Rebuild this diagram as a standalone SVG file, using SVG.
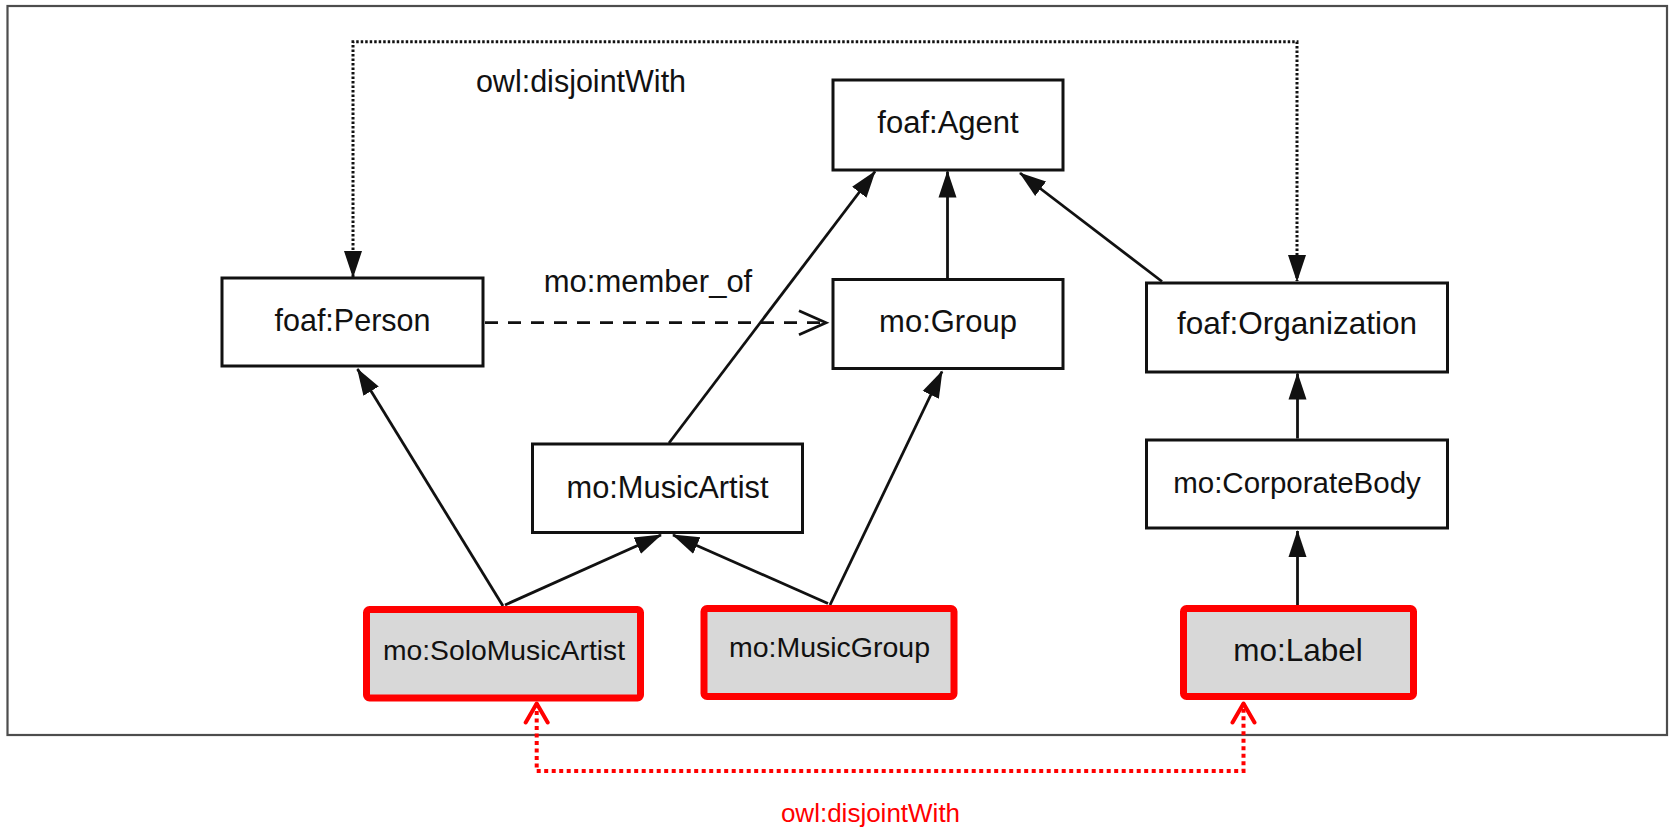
<svg xmlns="http://www.w3.org/2000/svg" width="1672" height="830" viewBox="0 0 1672 830">
<style>
text{font-family:"Liberation Sans",Arial,sans-serif;fill:#111;text-anchor:middle}
.box{fill:#fff;stroke:#111;stroke-width:3}
.rbox{fill:#d8d8d8;stroke:#ff0000;stroke-width:7}
.line{fill:none;stroke:#111;stroke-width:2.8;marker-end:url(#tri)}
.red{fill:#ff0000}
</style>
<defs>
<marker id="tri" markerUnits="userSpaceOnUse" markerWidth="28" markerHeight="20" viewBox="0 0 28 20" refX="26" refY="10" orient="auto-start-reverse">
<path d="M0,1 L27,10 L0,19 z" fill="#111"/>
</marker>
<marker id="open" markerUnits="userSpaceOnUse" markerWidth="34" markerHeight="30" viewBox="0 0 34 30" refX="30" refY="15" orient="auto">
<path d="M3,3 L30,15 L3,27" fill="none" stroke="#111" stroke-width="2.8"/>
</marker>
<marker id="ropen" markerUnits="userSpaceOnUse" markerWidth="26" markerHeight="28" viewBox="0 0 26 28" refX="22" refY="14" orient="auto-start-reverse">
<path d="M3,3 L22,14 L3,25" fill="none" stroke="#ff0000" stroke-width="4" stroke-linecap="round" stroke-linejoin="round"/>
</marker>
</defs>
<rect x="7.5" y="6" width="1659.5" height="729" fill="#fff" stroke="#4d4d4d" stroke-width="2.2"/>
<g id="connectors">
<path d="M353,277 V41.7 H1297 V281" fill="none" stroke="#111" stroke-width="3" stroke-dasharray="2.5 2" marker-start="url(#tri)" marker-end="url(#tri)"/>
<path d="M485,322.7 H826" fill="none" stroke="#111" stroke-width="2.8" stroke-dasharray="13 10" marker-end="url(#open)"/>
<path class="line" d="M669,443 L875,171.5"/>
<path class="line" d="M947.5,278.5 V171.5"/>
<path class="line" d="M1162,281.5 L1020,173"/>
<path class="line" d="M1297.5,438.5 V373.5"/>
<path class="line" d="M1297.5,605 V531"/>
<path class="line" d="M503,606 L357.5,369"/>
<path class="line" d="M505,605 L661,535"/>
<path class="line" d="M828,603.5 L673,535"/>
<path class="line" d="M830,605 L942,371.5"/>
<path d="M536.7,703.5 V771 H1243.5 V703.5" fill="none" stroke="#ff0000" stroke-width="4" stroke-dasharray="4 3.5" marker-start="url(#ropen)" marker-end="url(#ropen)"/>
<text x="581" y="91.7" font-size="30.5">owl:disjointWith</text>
<text x="648" y="291.7" font-size="31">mo:member_of</text>
<text class="red" x="870.5" y="822" font-size="26">owl:disjointWith</text>
</g>
<g id="foaf-agent"><rect class="box" x="833" y="80" width="230" height="90"/><text x="948" y="133" font-size="31">foaf:Agent</text></g>
<g id="foaf-person"><rect class="box" x="222" y="278" width="261" height="88"/><text x="352.5" y="331" font-size="30.5">foaf:Person</text></g>
<g id="mo-group"><rect class="box" x="833" y="279.5" width="230" height="89"/><text x="948" y="332" font-size="31">mo:Group</text></g>
<g id="foaf-organization"><rect class="box" x="1146.5" y="283" width="301" height="89"/><text x="1297" y="334" font-size="31.5">foaf:Organization</text></g>
<g id="mo-musicartist"><rect class="box" x="532.5" y="444" width="270" height="88.5"/><text x="667.5" y="497.5" font-size="30.8">mo:MusicArtist</text></g>
<g id="mo-corporatebody"><rect class="box" x="1146.5" y="440" width="301" height="88"/><text x="1297" y="493" font-size="29.5">mo:CorporateBody</text></g>
<g id="mo-solomusicartist"><rect class="rbox" x="366.5" y="609.5" width="274" height="88.5" rx="3"/><text x="504" y="660" font-size="28.3">mo:SoloMusicArtist</text></g>
<g id="mo-musicgroup"><rect class="rbox" x="704" y="608.5" width="250" height="88" rx="3"/><text x="829.5" y="657" font-size="28.5">mo:MusicGroup</text></g>
<g id="mo-label"><rect class="rbox" x="1183.5" y="608.5" width="230" height="88" rx="3"/><text x="1298" y="661" font-size="31.5">mo:Label</text></g>
</svg>
